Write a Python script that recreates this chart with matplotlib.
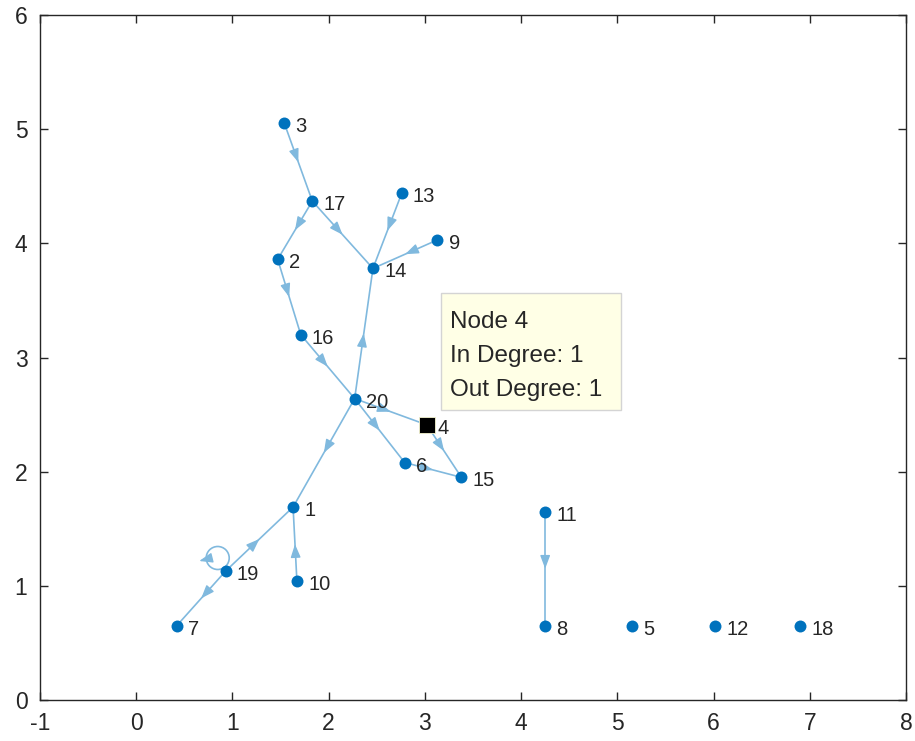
import numpy as np
import matplotlib.pyplot as plt
from matplotlib.patches import Ellipse, Rectangle

plt.rcParams['font.family'] = ['Liberation Sans', 'DejaVu Sans']
plt.rcParams['axes.unicode_minus'] = False

# node layout
node_ids = list(range(1, 21))
node_x = [1.63, 1.47, 1.54, 3.02, 5.15, 2.79, 0.42, 4.25, 3.13, 1.67,
          4.25, 6.02, 2.76, 2.46, 3.38, 1.71, 1.83, 6.90, 0.93, 2.27]
node_y = [1.69, 3.86, 5.05, 2.41, 0.65, 2.08, 0.65, 0.65, 4.03, 1.04,
          1.65, 0.65, 4.44, 3.78, 1.95, 3.20, 4.37, 0.65, 1.13, 2.64]

# directed edges
edge_src = [3, 17, 17, 13, 9, 2, 16, 20, 20, 20, 20, 4, 6, 19, 10, 19, 11, 19]
edge_dst = [17, 2, 14, 14, 14, 16, 20, 14, 1, 6, 4, 15, 15, 1, 1, 7, 8, 19]

picked = 4
tip_lines = ['Node 4', 'In Degree: 1', 'Out Degree: 1']

node_col = '#0072BD'
edge_col = '#80B9DE'
axis_col = '#262626'

W, H = 915, 741
fig = plt.figure(figsize=(W / 100, H / 100), dpi=100)
ax = fig.add_axes([40 / W, 41 / H, 866 / W, 685 / H])
ax.set_xlim(-1, 8)
ax.set_ylim(0, 6)

# pixels per data unit
sx = 866 / 9
sy = 685 / 6

pos = {n: (x, y) for n, x, y in zip(node_ids, node_x, node_y)}
head = '-|>,head_length=0.8,head_width=0.3'

for s, d in zip(edge_src, edge_dst):
    x1, y1 = pos[s]
    x2, y2 = pos[d]
    if s == d:
        # self loop
        cx, cy = x1 - 8 / sx, y1 + 13 / sy
        r = 11.5
        ax.add_patch(Ellipse((cx, cy), 2 * r / sx, 2 * r / sy, fill=False,
                             ec=edge_col, lw=1.2, zorder=1))
        ax.annotate('', xy=(cx - (r + 7) / sx, cy - 3 / sy), xytext=(6, 1.5),
                    textcoords='offset points',
                    arrowprops=dict(arrowstyle=head, color=edge_col, lw=1.0,
                                    shrinkA=0, shrinkB=0),
                    zorder=1)
        continue
    ax.plot([x1, x2], [y1, y2], color=edge_col, lw=1.2, zorder=1)
    mx, my = (x1 + x2) / 2, (y1 + y2) / 2
    ux, uy = (x2 - x1) * sx, (y2 - y1) * sy
    n = np.hypot(ux, uy)
    ux, uy = ux / n, uy / n
    ax.annotate('', xy=(mx, my), xytext=(-ux * 8, -uy * 8),
                textcoords='offset points',
                arrowprops=dict(arrowstyle=head, color=edge_col, lw=1.0,
                                shrinkA=0, shrinkB=0),
                zorder=1)

others = [n for n in node_ids if n != picked]
ax.plot([pos[n][0] for n in others], [pos[n][1] for n in others], 'o',
        color=node_col, ms=8.6, mec='none', zorder=3)
ax.plot(pos[picked][0], pos[picked][1], 's', color='black', ms=11.5,
        mec='#F5F5D0', mew=0.6, zorder=3)

for n in node_ids:
    ax.annotate(str(n), xy=pos[n], xytext=(8, -2.5), textcoords='offset points',
                va='center', ha='left', fontsize=14.5, color=axis_col, zorder=4)

# data tip box next to the picked node
px, py = pos[picked]
ax.add_patch(Rectangle((px + 14 / sx, py + 15 / sy), 180 / sx, 117 / sy,
                       fc='#FFFFE6', ec='#D4D4D4', lw=1.0, zorder=5))
for i, t in enumerate(tip_lines):
    ax.text(px + 23 / sx, py + (103 - 34 * i) / sy, t, fontsize=17.5,
            color=axis_col, va='center', ha='left', zorder=6)

ax.set_xticks(np.arange(-1, 9))
ax.set_yticks(np.arange(0, 7))
ax.tick_params(direction='in', length=6, width=1.0, colors=axis_col,
               labelsize=16.5, top=True, right=True)
ax.tick_params(axis='x', pad=9)
ax.tick_params(axis='y', pad=9)
for sp in ax.spines.values():
    sp.set_color(axis_col)
    sp.set_linewidth(1.0)

fig.savefig('out.png', dpi=100)
